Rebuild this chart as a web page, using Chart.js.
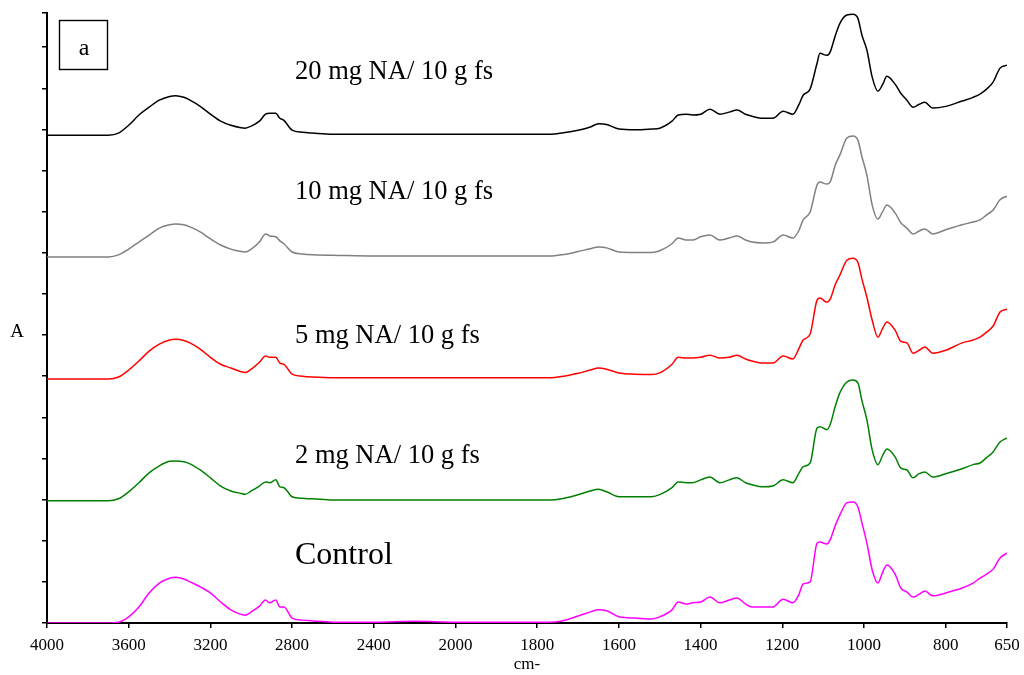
<!DOCTYPE html>
<html>
<head>
<meta charset="utf-8">
<title>FTIR</title>
<script src="https://cdn.jsdelivr.net/npm/chart.js@4.4.0/dist/chart.umd.min.js"></script>
<style>
  html, body { margin: 0; padding: 0; background: #fff; }
  #wrap { width: 1024px; height: 675px; position: relative; }
</style>
</head>
<body>
<div id="wrap"><canvas id="grafico_ftir"></canvas></div>
<script>
// wavenumbers (cm-1) where the spectra were read
const wavenumbers = [4000,3700,3650,3600,3550,3500,3450,3400,3370,3330,
  3300,3250,3200,3150,3100,3050,3030,3000,2960,2930,
  2910,2880,2860,2840,2800,2750,2700,2600,2400,2200,
  2000,1800,1770,1740,1700,1670,1650,1630,1600,1560,
  1520,1500,1470,1455,1435,1420,1400,1377,1353,1330,
  1311,1290,1274,1247,1223,1198,1174,1160,1149,1132,
  1115,1108,1091,1083,1070,1059,1042,1027,1015,1005,
  993,980,966,955,944,924,910,895,880,865,
  851,832,800,760,733,716,700,684,667,650];

// absorbance of each sample (without the stacking offset)
const control = [0,0,.002,.015,.039,.073,.097,.109,.111,.107,
  .100,.088,.073,.051,.032,.021,.019,.027,.041,.056,
  .049,.056,.039,.039,.012,.007,.005,.002,.002,.004,
  .002,.002,.002,.005,.017,.027,.032,.030,.015,.012,
  .010,.015,.032,.051,.046,.049,.051,.063,.049,.056,
  .061,.046,.039,.039,.039,.058,.049,.068,.095,.100,
  .194,.197,.192,.202,.238,.263,.292,.294,.282,.243,
  .194,.129,.097,.122,.141,.119,.085,.075,.063,.070,
  .078,.066,.073,.085,.097,.109,.119,.131,.158,.170];

const na2mg = [0,0,.005,.022,.044,.068,.085,.096,.097,.095,
  .090,.075,.056,.036,.024,.018,.016,.024,.036,.046,
  .044,.051,.034,.032,.010,.006,.005,.002,.002,.002,
  .002,.002,.002,.005,.015,.024,.028,.022,.010,.010,
  .010,.015,.032,.046,.044,.044,.051,.058,.044,.051,
  .056,.044,.039,.034,.036,.051,.044,.066,.083,.092,
  .177,.180,.173,.185,.231,.263,.289,.294,.287,.243,
  .197,.124,.088,.109,.126,.107,.080,.075,.056,.066,
  .070,.058,.066,.078,.088,.092,.105,.119,.143,.153];

const na5mg = [0,0,.005,.022,.044,.068,.085,.095,.097,.094,
  .088,.073,.053,.036,.027,.018,.016,.024,.041,.056,
  .053,.053,.039,.036,.012,.007,.005,.003,.003,.003,
  .003,.003,.003,.006,.014,.022,.027,.024,.015,.012,
  .011,.015,.036,.053,.051,.051,.053,.058,.051,.053,
  .058,.049,.044,.039,.039,.056,.049,.073,.095,.109,
  .192,.197,.187,.194,.231,.253,.289,.294,.284,.243,
  .199,.143,.102,.122,.139,.119,.092,.088,.063,.070,
  .078,.063,.070,.088,.095,.102,.114,.129,.163,.170];

const na10mg = [0,0,.005,.019,.036,.053,.070,.078,.080,.078,
  .073,.061,.044,.029,.019,.013,.012,.019,.036,.056,
  .051,.049,.039,.032,.012,.007,.005,.004,.002,.002,
  .002,.002,.002,.005,.013,.020,.024,.022,.012,.011,
  .011,.015,.032,.046,.041,.041,.049,.053,.041,.046,
  .051,.041,.036,.034,.036,.053,.046,.063,.090,.109,
  .175,.182,.177,.182,.224,.248,.289,.294,.284,.243,
  .199,.126,.092,.109,.126,.107,.083,.070,.056,.063,
  .068,.056,.066,.078,.085,.090,.102,.114,.139,.148];

const na20mg = [0,0,.005,.024,.049,.068,.085,.094,.096,.092,
  .085,.070,.051,.034,.024,.018,.017,.022,.034,.051,
  .053,.053,.041,.036,.012,.007,.005,.002,.002,.002,
  .002,.002,.002,.005,.012,.020,.028,.026,.015,.013,
  .015,.017,.034,.049,.051,.049,.051,.063,.051,.056,
  .061,.051,.046,.041,.041,.058,.051,.073,.097,.112,
  .175,.199,.194,.202,.243,.272,.292,.294,.284,.243,
  .207,.141,.107,.122,.143,.124,.102,.085,.068,.075,
  .080,.066,.070,.083,.092,.100,.112,.129,.163,.170];

// vertical shift of each trace in the stacked plot
const offsets = [0, 0.297, 0.593, 0.890, 1.186];
const seriesNames = ['Control', '2 mg NA/ 10 g fs', '5 mg NA/ 10 g fs', '10 mg NA/ 10 g fs', '20 mg NA/ 10 g fs'];
const seriesValues = [control, na2mg, na5mg, na10mg, na20mg];

const xTickLabels = [4000, 3600, 3200, 2800, 2400, 2000, 1800, 1600, 1400, 1200, 1000, 800, 650];
const yTickValues = [0, 0.1, 0.2, 0.3, 0.4, 0.5, 0.6, 0.7, 0.8, 0.9, 1.0, 1.1, 1.2, 1.3, 1.4, 1.483];

const colores = ['#ff00ff', '#008000', '#ff0000', '#808080', '#000000'];

// the instrument plot uses half scale above 2000 cm-1
function aEje(w) {
  return w >= 2000 ? (4000 - w) / 2 : 1000 + (2000 - w);
}
function desdeEje(u) {
  return u <= 1000 ? Math.round(4000 - 2 * u) : Math.round(3000 - u);
}

const fuente = '"Liberation Serif", "Times New Roman", serif';

const rotulos = {
  id: 'rotulos',
  afterDraw(chart) {
    const ctx = chart.ctx;
    ctx.save();
    ctx.fillStyle = '#000';
    ctx.textBaseline = 'alphabetic';
    ctx.textAlign = 'left';
    ctx.font = '26.5px ' + fuente;
    ctx.fillText(seriesNames[4], 295, 79);
    ctx.fillText(seriesNames[3], 295, 199);
    ctx.fillText(seriesNames[2], 295, 343);
    ctx.fillText(seriesNames[1], 295, 463);
    ctx.font = '32px ' + fuente;
    ctx.fillText(seriesNames[0], 295, 564);

    // panel letter
    ctx.strokeStyle = '#000';
    ctx.lineWidth = 1.4;
    ctx.strokeRect(59.5, 20.5, 48, 49);
    ctx.font = '24px ' + fuente;
    ctx.textAlign = 'center';
    ctx.fillText('a', 84, 55);

    // y axis name
    ctx.font = '19px ' + fuente;
    ctx.fillText('A', 17, 337);
    ctx.restore();
  }
};

function grafico(ctxRef) {
  const datasets = seriesValues.map(function (vals, i) {
    return {
      label: seriesNames[i],
      data: vals.map(function (v, k) {
        return { x: aEje(wavenumbers[k]), y: offsets[i] + v };
      }),
      borderColor: colores[i],
      borderWidth: 1.5,
      pointRadius: 0,
      fill: false,
      cubicInterpolationMode: 'monotone'
    };
  });

  new Chart(ctxRef, {
    type: 'line',
    data: { datasets: datasets },
    options: {
      responsive: true,
      maintainAspectRatio: false,
      animation: false,
      layout: { padding: { top: 13, right: 17, left: 0, bottom: 0 } },
      plugins: {
        legend: { display: false },
        tooltip: { enabled: false }
      },
      scales: {
        x: {
          type: 'linear',
          min: 0,
          max: aEje(650),
          afterBuildTicks: function (scale) {
            scale.ticks = xTickLabels.map(function (w) { return { value: aEje(w) }; });
          },
          afterFit: function (scale) {
            scale.height = 52;
            scale.paddingLeft = 0;
            scale.paddingRight = 0;
          },
          ticks: {
            autoSkip: false,
            maxRotation: 0,
            padding: 7,
            color: '#000',
            font: { family: fuente, size: 17 },
            callback: function (value) { return desdeEje(value); }
          },
          grid: {
            drawOnChartArea: false,
            drawTicks: true,
            tickLength: 5,
            color: '#000',
            lineWidth: 1.5
          },
          border: { display: true, color: '#000', width: 2 },
          title: {
            display: true,
            text: 'cm-',
            color: '#000',
            font: { family: fuente, size: 17 },
            padding: { top: 0, bottom: 0 }
          }
        },
        y: {
          type: 'linear',
          min: 0,
          max: 1.483,
          afterBuildTicks: function (scale) {
            scale.ticks = yTickValues.map(function (v) { return { value: v }; });
          },
          afterFit: function (scale) {
            scale.width = 47;
            scale.paddingTop = 0;
            scale.paddingBottom = 0;
          },
          ticks: { display: false },
          grid: {
            drawOnChartArea: false,
            drawTicks: true,
            tickLength: 5,
            color: '#000',
            lineWidth: 1.5
          },
          border: { display: true, color: '#000', width: 2 }
        }
      }
    },
    plugins: [rotulos]
  });
}

grafico(document.getElementById('grafico_ftir').getContext('2d'));
</script>
</body>
</html>
